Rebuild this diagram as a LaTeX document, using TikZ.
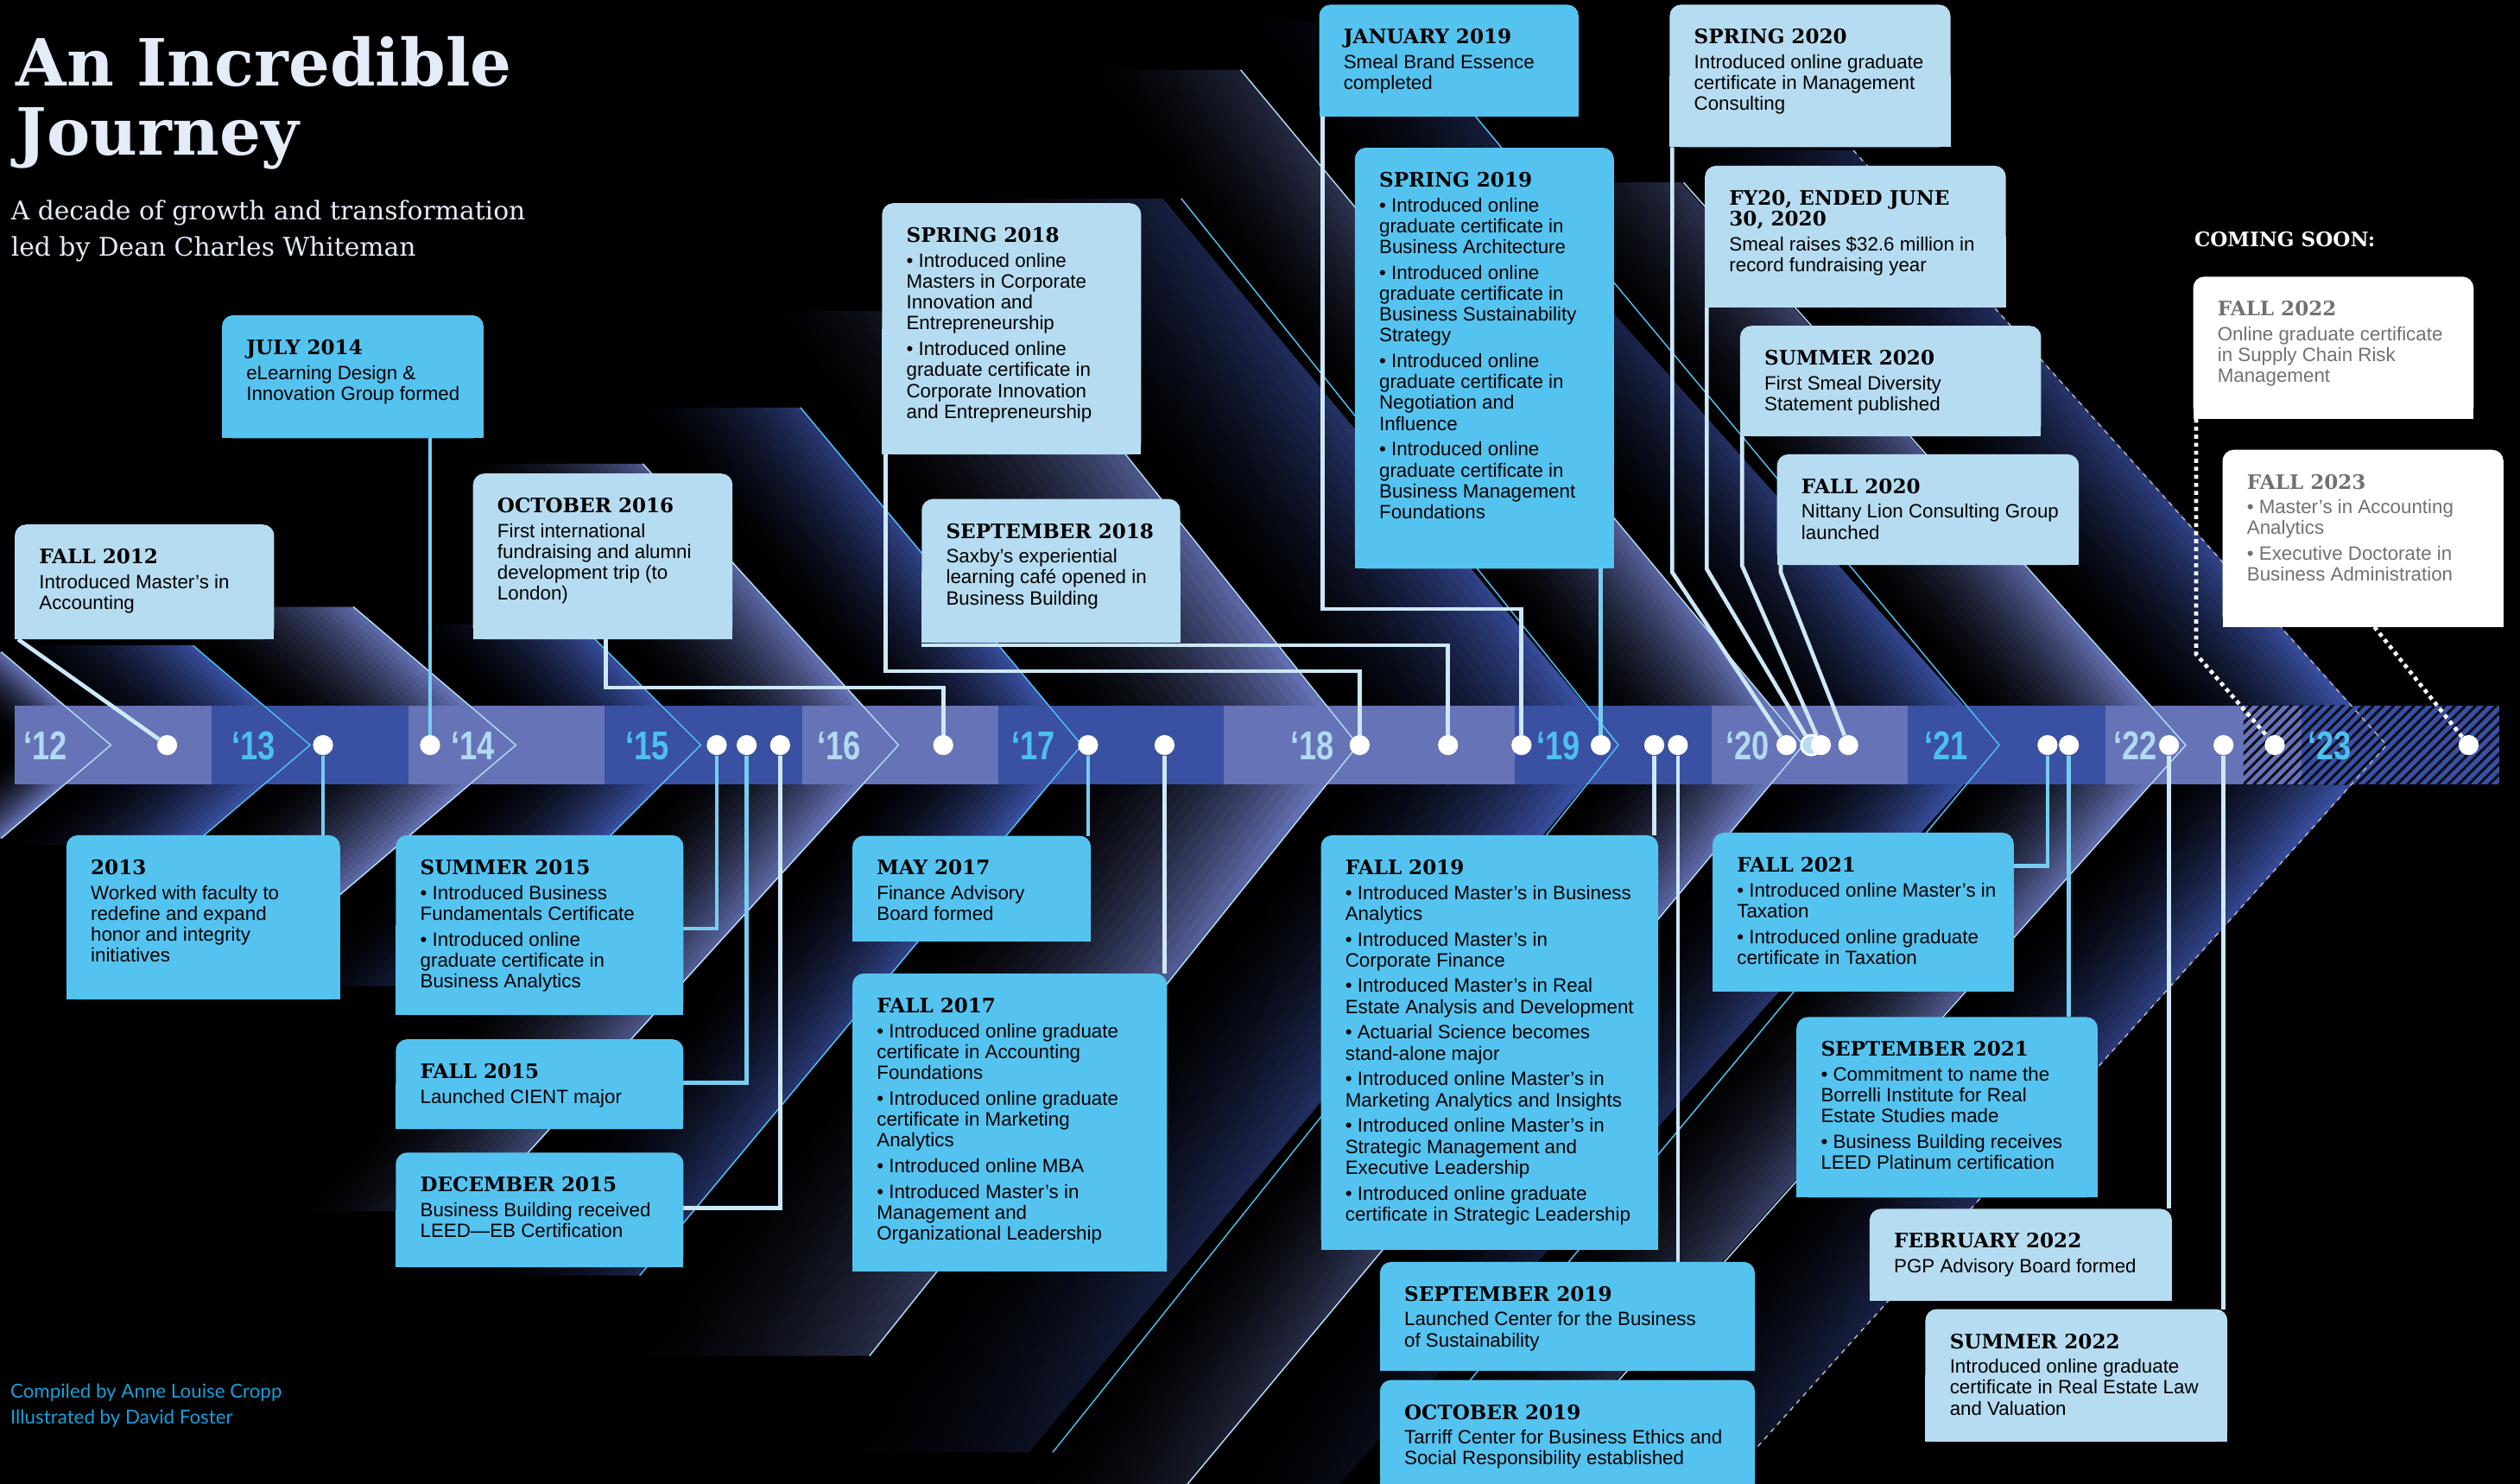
\documentclass[tikz,border=0pt]{standalone}
\usepackage{fontspec}
\setmainfont{Liberation Sans}
\newfontfamily\headfont{DejaVu Serif}
\newfontfamily\yearfont{Liberation Sans}[FakeStretch=0.78]
\newfontfamily\creditfont{Lato}
\usetikzlibrary{patterns.meta, fadings}

\definecolor{bandlight}{RGB}{102,115,183}
\definecolor{banddark}{RGB}{58,80,162}
\definecolor{boxcyan}{RGB}{85,195,239}
\definecolor{boxpale}{RGB}{182,220,241}
\definecolor{yearpale}{RGB}{178,218,242}
\definecolor{yearcyan}{RGB}{77,192,238}
\definecolor{linkpale}{RGB}{205,232,248}
\definecolor{linkcyan}{RGB}{120,205,242}
\definecolor{soongray}{RGB}{112,113,116}
\definecolor{creditblue}{RGB}{26,158,218}
\definecolor{titlewhite}{RGB}{228,236,248}

\pgfdeclarelayer{back}
\pgfdeclarelayer{fillers}
\pgfsetlayers{back,fillers,main}

\newcommand\bodysize{\fontsize{12}{13}\selectfont}
\newcommand\headsize{\headfont\bfseries\fontsize{12.4}{13}\selectfont}
\newcommand\evhead[1]{{\headsize #1\par}\vspace{2.4pt}}
\newcommand\nxt{\par\vspace{3pt}}
% box: name, fill, x, y (top left), width, height, text
\newcommand\evbox[7]{%
  \node[evtext] (#1) at (#3,#4)
    {\parbox[t][\dimexpr#6pt-30pt\relax][t]{\dimexpr#5pt-18pt\relax}{\leftskip=6pt\relax #7}};
  \begin{pgfonlayer}{fillers}
    \fill[#2, rounded corners=7pt] (#1.south west) rectangle (#1.north east);
    \fill[#2] (#1.south west) rectangle (#1.east);
  \end{pgfonlayer}}

\begin{document}
\begin{tikzpicture}[x=1pt, y=-1pt,
    evtext/.style={anchor=north west, inner xsep=9pt, inner ysep=15pt, font=\bodysize, text=black},
    dot/.style={circle, fill=white, inner sep=0pt, minimum size=12.5pt},
    link/.style={draw=linkpale, line width=2.5pt},
    linkc/.style={link, draw=linkcyan},
    soon/.style={draw=white, line width=2.5pt, dash pattern=on 2.5pt off 2.5pt},
    chevedge/.style={draw=#1, line width=0.8pt},
    yr/.style={anchor=base west, inner sep=0pt, font=\yearfont\bfseries\fontsize{25}{25}\selectfont},
    titletext/.style={anchor=base west, inner sep=0pt, text=titlewhite}]

  \useasboundingbox (0,0) rectangle (1568,923);

  % tip / width / up / down / slope / colour / edge colour / edge style
  \def\chevlist{69/60/58/58/0.85/bandlight/yearpale/solid,
    193/124/62/62/0.85/banddark/yearcyan/solid,
    321/128/86/95/0.85/bandlight/yearpale/solid,
    436/115/75/150/1.0/banddark/yearcyan/solid,
    559/123/175/290/1.1/bandlight/yearpale/solid,
    673/114/210/330/1.2/banddark/yearcyan/solid,
    845/172/270/380/1.25/bandlight/yearpale/solid,
    1007/162/340/440/1.25/banddark/yearcyan/solid,
    1122/115/420/460/1.2/bandlight/yearpale/solid,
    1244/122/450/460/1.2/banddark/yearcyan/solid,
    1360/116/350/460/1.12/bandlight/yearpale/solid,
    1485/125/370/440/1.115/banddark/gray!60/dashed}

  \begin{pgfonlayer}{back}
    \fill[black] (0,0) rectangle (1568,923);

    % chevron wings
    \foreach \tip/\wid/\hup/\hdn/\slp/\col/\ecol/\est in \chevlist {
      \foreach \k in {1,...,24} {
        \pgfmathsetmacro\xa{\tip-\wid+\wid*(\k-1)/24}
        \pgfmathsetmacro\xb{\tip-\wid+\wid*\k/24+0.6}
        \pgfmathsetmacro\mix{100*(\k/24)^2}
        \fill[\col!\mix!black] (\xa,463.5) -- (\xb,463.5) -- ({\xb-\hup/\slp},{463.5-\hup}) -- ({\xa-\hup/\slp},{463.5-\hup}) -- cycle;
        \fill[\col!\mix!black] (\xa,463.5) -- (\xb,463.5) -- ({\xb-\hdn/\slp},{463.5+\hdn}) -- ({\xa-\hdn/\slp},{463.5+\hdn}) -- cycle;
      }
    }
    \fill[black, path fading=south, opacity=0.8] (0,0) rectangle (1568,440);
    \fill[black, path fading=north, opacity=0.8] (0,487) rectangle (1568,923);

    % year band
    \foreach \xa/\xb/\col in {9.2/131.5/bandlight, 131.5/254/banddark, 254/376/bandlight,
        376/499/banddark, 499/621/bandlight, 621/761.4/banddark, 761.4/942.5/bandlight,
        942.5/1065/banddark, 1065/1187/bandlight, 1187/1310/banddark, 1310/1432/bandlight,
        1432/1555/banddark}
      \fill[\col] (\xa,439) rectangle (\xb,488);
    \fill[pattern={Lines[angle=45, distance=4.5pt, line width=1.6pt]}, pattern color=black!85!banddark]
      (1396,439) rectangle (1555,488);

    \foreach \tip/\wid/\hup/\hdn/\slp/\col/\ecol/\est in \chevlist
      \draw[chevedge=\ecol, \est] ({\tip-\hup/\slp},{463.5-\hup}) -- (\tip,463.5) -- ({\tip-\hdn/\slp},{463.5+\hdn});
  \end{pgfonlayer}

  % title
  \node[titletext, font=\headfont\bfseries\fontsize{40.5}{43}\selectfont] (title) at (10,53.7) {An Incredible};
  \node[titletext, font=\headfont\bfseries\fontsize{40.5}{43}\selectfont] (title2) at (10,96.7) {Journey};
  \node[titletext, font=\headfont\fontsize{16}{22}\selectfont] (sub1) at (6.7,137) {A decade of growth and transformation};
  \node[titletext, font=\headfont\fontsize{16}{22}\selectfont] (sub2) at (6.7,159.4) {led by Dean Charles Whiteman};
  \node[anchor=base west, inner sep=0pt, text=creditblue, font=\creditfont\fontsize{12}{16}\selectfont] (cred1) at (6.3,869.8) {Compiled by Anne Louise Cropp};
  \node[anchor=base west, inner sep=0pt, text=creditblue, font=\creditfont\fontsize{12}{16}\selectfont] (cred2) at (6.3,885.6) {Illustrated by David Foster};
  \node[anchor=base west, inner sep=0pt, text=white, font=\headsize] (soon) at (1365.2,153.5) {COMING SOON:};

  % years
  \foreach \x/\lab/\c in {14.6/12/yearpale, 144/13/yearcyan, 280.5/14/yearpale, 389/15/yearcyan,
      508.4/16/yearpale, 629.4/17/yearcyan, 802.7/18/yearpale, 955.9/19/yearcyan,
      1073.6/20/yearpale, 1197.1/21/yearcyan, 1314.8/22/yearpale, 1435.9/23/yearcyan}
    \node[yr, text=\c] (yr\lab) at (\x,472.4) {‘\lab};

  % boxes above the band
  \evbox{fall12}{boxpale}{9.2}{326.3}{161}{71}{\evhead{FALL 2012}Introduced Master’s in\\Accounting}
  \evbox{jul14}{boxcyan}{138.1}{196.1}{162.4}{76.2}{\evhead{JULY 2014}eLearning Design \&\\Innovation Group formed}
  \evbox{oct16}{boxpale}{294.3}{294.6}{161.1}{102.7}{\evhead{OCTOBER 2016}First international\\fundraising and alumni\\development trip (to\\London)}
  \evbox{spr18}{boxpale}{548.8}{126.4}{160.8}{155.9}{\evhead{SPRING 2018}• Introduced online\\Masters in Corporate\\Innovation and\\Entrepreneurship\nxt
    • Introduced online\\graduate certificate in\\Corporate Innovation\\and Entrepreneurship}
  \evbox{sep18}{boxpale}{573.5}{310.4}{160.4}{89.1}{\evhead{SEPTEMBER 2018}Saxby’s experiential\\learning café opened in\\Business Building}
  \evbox{jan19}{boxcyan}{820.8}{2.9}{161}{69.1}{\evhead{JANUARY 2019}Smeal Brand Essence\\completed}
  \evbox{spr19}{boxcyan}{843}{91.9}{160.8}{261.5}{\evhead{SPRING 2019}• Introduced online\\graduate certificate in\\Business Architecture\nxt
    • Introduced online\\graduate certificate in\\Business Sustainability\\Strategy\nxt
    • Introduced online\\graduate certificate in\\Negotiation and\\Influence\nxt
    • Introduced online\\graduate certificate in\\Business Management\\Foundations}
  \evbox{spr20}{boxpale}{1038.9}{2.9}{174.3}{88.2}{\evhead{SPRING 2020}Introduced online graduate\\certificate in Management\\Consulting}
  \evbox{fy20}{boxpale}{1060.8}{103.1}{186.9}{87.6}{\evhead{FY20, ENDED JUNE\\30, 2020}Smeal raises \$32.6 million in\\record fundraising year}
  \evbox{sum20}{boxpale}{1082.7}{202.7}{186.9}{68.3}{\evhead{SUMMER 2020}First Smeal Diversity\\Statement published}
  \evbox{fall20}{boxpale}{1105.7}{282.6}{187.4}{68.5}{\evhead{FALL 2020}Nittany Lion Consulting Group\\launched}
  \evbox{fall22}{white}{1364.6}{172.1}{174.1}{87.9}{\evhead{\leavevmode\color{soongray}FALL 2022}\leavevmode\color{soongray}Online graduate certificate\\in Supply Chain Risk\\Management}
  \evbox{fall23}{white}{1382.9}{279.8}{174.4}{109.8}{\evhead{\leavevmode\color{soongray}FALL 2023}\leavevmode\color{soongray}• Master’s in Accounting\\Analytics\nxt
    • Executive Doctorate in\\Business Administration}

  % boxes below the band
  \evbox{y2013}{boxcyan}{41.3}{519.6}{169.9}{101.8}{\evhead{2013}Worked with faculty to\\redefine and expand\\honor and integrity\\initiatives}
  \evbox{sum15}{boxcyan}{246.3}{519.6}{178.6}{111.4}{\evhead{SUMMER 2015}• Introduced Business\\Fundamentals Certificate\nxt
    • Introduced online\\graduate certificate in\\Business Analytics}
  \evbox{fall15}{boxcyan}{246.3}{646.5}{178.6}{55.5}{\evhead{FALL 2015}Launched CIENT major}
  \evbox{dec15}{boxcyan}{246.3}{717}{178.6}{71}{\evhead{DECEMBER 2015}Business Building received\\LEED—EB Certification}
  \evbox{may17}{boxcyan}{530.4}{519.9}{148}{65.3}{\evhead{MAY 2017}Finance Advisory\\Board formed}
  \evbox{fall17}{boxcyan}{530.4}{605.6}{195.3}{184.9}{\evhead{FALL 2017}• Introduced online graduate\\certificate in Accounting\\Foundations\nxt
    • Introduced online graduate\\certificate in Marketing\\Analytics\nxt
    • Introduced online MBA\nxt
    • Introduced Master’s in\\Management and\\Organizational Leadership}
  \evbox{fall19}{boxcyan}{821.9}{519.6}{209.5}{257.5}{\evhead{FALL 2019}• Introduced Master’s in Business\\Analytics\nxt
    • Introduced Master’s in\\Corporate Finance\nxt
    • Introduced Master’s in Real\\Estate Analysis and Development\nxt
    • Actuarial Science becomes\\stand-alone major\nxt
    • Introduced online Master’s in\\Marketing Analytics and Insights\nxt
    • Introduced online Master’s in\\Strategic Management and\\Executive Leadership\nxt
    • Introduced online graduate\\certificate in Strategic Leadership}
  \evbox{sep19}{boxcyan}{858.6}{785}{232.9}{67.2}{\evhead{SEPTEMBER 2019}Launched Center for the Business\\of Sustainability}
  \evbox{oct19}{boxcyan}{858.6}{858.5}{232.9}{66}{\evhead{OCTOBER 2019}Tarriff Center for Business Ethics and\\Social Responsibility established}
  \evbox{fall21}{boxcyan}{1065.6}{518}{187}{98.4}{\evhead{FALL 2021}• Introduced online Master’s in\\Taxation\nxt
    • Introduced online graduate\\certificate in Taxation}
  \evbox{sep21}{boxcyan}{1117.8}{632.7}{187}{111.8}{\evhead{SEPTEMBER 2021}• Commitment to name the\\Borrelli Institute for Real\\Estate Studies made\nxt
    • Business Building receives\\LEED Platinum certification}
  \evbox{feb22}{boxpale}{1163.3}{752}{187.7}{56.7}{\evhead{FEBRUARY 2022}PGP Advisory Board formed}
  \evbox{sum22}{boxpale}{1198}{814.4}{187.5}{82.1}{\evhead{SUMMER 2022}Introduced online graduate\\certificate in Real Estate Law\\and Valuation}

  % dots on the band
  \node[dot] (dfall12) at (104,463.5) {};
  \node[dot] (d2013) at (201,463.5) {};
  \node[dot] (djul14) at (267.6,463.5) {};
  \node[dot] (dsum15) at (446,463.5) {};
  \node[dot] (dfall15) at (464.6,463.5) {};
  \node[dot] (ddec15) at (485.4,463.5) {};
  \node[dot] (doct16) at (586.9,463.5) {};
  \node[dot] (dmay17) at (677,463.5) {};
  \node[dot] (dfall17) at (724.6,463.5) {};
  \node[dot] (dspr18) at (846,463.5) {};
  \node[dot] (dsep18) at (901,463.5) {};
  \node[dot] (djan19) at (946.7,463.5) {};
  \node[dot] (dspr19) at (996,463.5) {};
  \node[dot] (dfall19) at (1029.3,463.5) {};
  \node[dot] (dsep19) at (1044,463.5) {};
  \node[dot] (dspr20) at (1111.6,463.5) {};
  \node[dot, fill=boxpale, draw=white, line width=1.5pt] (dfy20) at (1127,463.5) {};
  \node[dot] (dsum20) at (1133,463.5) {};
  \node[dot] (dfall20) at (1150,463.5) {};
  \node[dot] (dfall21) at (1274,463.5) {};
  \node[dot] (dsep21) at (1287.3,463.5) {};
  \node[dot] (dfeb22) at (1349.6,463.5) {};
  \node[dot] (dsum22) at (1383.5,463.5) {};
  \node[dot] (dfall22) at (1415.4,463.5) {};
  \node[dot] (dfall23) at (1536,463.5) {};

  % connectors
  \begin{pgfonlayer}{back}
    \draw[link] ([xshift=2pt]fall12.south west) -- (dfall12);
    \draw[linkc] (d2013) -- (d2013 |- y2013.north);
    \draw[linkc] (djul14 |- jul14.south) -- (djul14);
    \draw[linkc] (sum15.east |- 0,577.6) -| (dsum15);
    \draw[linkc] (fall15.east |- 0,673.6) -| (dfall15);
    \draw[link] (dec15.east |- 0,751.6) -| (ddec15);
    \draw[link] (376.9,0 |- oct16.south) |- (doct16 |- 0,427.7) -- (doct16);
    \draw[linkc] (dmay17) -- (dmay17 |- may17.north);
    \draw[link] (dfall17) -- (dfall17 |- fall17.north);
    \draw[link] (551,0 |- spr18.south) |- (dspr18 |- 0,417.5) -- (dspr18);
    \draw[link] ([yshift=-1.5pt]sep18.south west) -| (dsep18);
    \draw[link] (823,0 |- jan19.south) |- (djan19 |- 0,378.8) -- (djan19);
    \draw[linkc] (dspr19 |- spr19.south) -- (dspr19);
    \draw[link] (dfall19) -- (dfall19 |- fall19.north);
    \draw[link] (dsep19) -- (dsep19 |- sep19.north);
    \draw[link] (1040.5,0 |- spr20.south) -- (1040.5,356) -- (dspr20);
    \draw[link] (1062,0 |- fy20.south) -- (1062,354) -- (dfy20);
    \draw[link] (1084,0 |- sum20.south) -- (1084,352) -- (dsum20);
    \draw[link] (1108,0 |- fall20.south) -- (1108,356) -- (dfall20);
    \draw[linkc] (fall21.east |- 0,538.8) -| (dfall21);
    \draw[linkc] (dsep21) -- (dsep21 |- sep21.north);
    \draw[link] (dfeb22) -- (dfeb22 |- feb22.north);
    \draw[link] (dsum22) -- (dsum22 |- sum22.north);
    \draw[soon] (1366.5,0 |- fall22.south) -- (1366.5,407) -- (dfall22);
    \draw[soon] (1477.4,0 |- fall23.south) -- (dfall23);
  \end{pgfonlayer}

\end{tikzpicture}
\end{document}
